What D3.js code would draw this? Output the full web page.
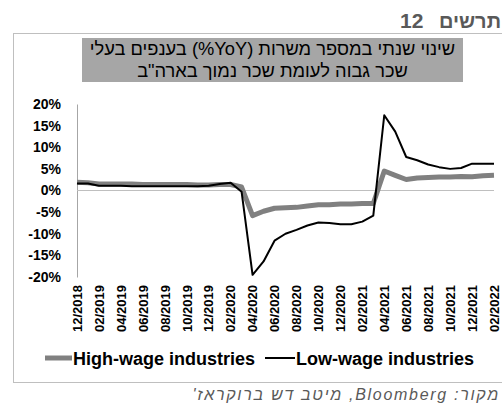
<!DOCTYPE html>
<html><head><meta charset="utf-8">
<script src="https://cdn.jsdelivr.net/npm/d3@7"></script>
<style>
html,body{margin:0;padding:0;background:#fff;}
svg{display:block;font-family:"Liberation Sans",Arial,sans-serif;}
</style></head>
<body><svg id="c" width="502" height="405"></svg>
<script>
const months = ["12/2018","01/2019","02/2019","03/2019","04/2019","05/2019","06/2019","07/2019","08/2019","09/2019","10/2019","11/2019","12/2019",
"01/2020","02/2020","03/2020","04/2020","05/2020","06/2020","07/2020","08/2020","09/2020","10/2020","11/2020","12/2020",
"01/2021","02/2021","03/2021","04/2021","05/2021","06/2021","07/2021","08/2021","09/2021","10/2021","11/2021","12/2021",
"01/2022","02/2022"];
const highWage = [1.9,1.8,1.5,1.5,1.5,1.5,1.4,1.4,1.4,1.4,1.4,1.3,1.3,1.4,1.4,0.8,-5.8,-4.8,-4.1,-4.0,-3.9,-3.6,-3.3,-3.3,-3.1,-3.1,-3.0,-3.0,4.5,3.5,2.55,2.9,3.0,3.1,3.1,3.25,3.2,3.4,3.5];
const lowWage = [1.6,1.6,1.1,1.1,1.1,1.0,1.0,1.0,1.0,1.0,1.0,1.0,1.1,1.5,1.8,-0.3,-19.5,-16.4,-11.6,-10.0,-9.1,-8.1,-7.4,-7.5,-7.8,-7.8,-7.2,-5.8,17.4,13.6,7.75,7.0,6.0,5.4,5.0,5.2,6.2,6.2,6.2];
const yTicks = [-20,-15,-10,-5,0,5,10,15,20];
const seriesNames = ["High-wage industries","Low-wage industries"];
const chartWord = "תרשים";
const chartNum = "12";
const titleLines = ["שינוי שנתי במספר משרות (YoY%) בענפים בעלי","שכר גבוה לעומת שכר נמוך בארה\"ב"];
const sourceText = "מקור: Bloomberg, מיטב דש ברוקראז'";

const svg = d3.select("#c");
const x = d3.scalePoint().domain(months).range([77, 494]);
const y = d3.scaleLinear().domain([-20, 20]).range([277, 104]);

// chart number
svg.append("text").attr("x", 400).attr("y", 28)
  .attr("font-size", 21).attr("font-weight","bold").attr("fill","#595959")
  .text(chartNum);
svg.append("text").attr("x", 501).attr("y", 28).attr("text-anchor","end")
  .attr("font-size", 20).attr("font-weight","bold").attr("fill","#595959")
  .text(chartWord);

// frame
svg.append("rect").attr("x",13.5).attr("y",33.5).attr("width",520).attr("height",349)
  .attr("fill","none").attr("stroke","#bfbfbf").attr("stroke-width",1);

// title box
svg.append("rect").attr("x",82).attr("y",38).attr("width",381).attr("height",44).attr("fill","#a6a6a6");
titleLines.forEach((t,i)=>{
  svg.append("text").attr("x",272.5).attr("y",55+i*22)
    .attr("text-anchor","middle").style("direction","rtl")
    .attr("font-size",18.3).attr("fill","#000").text(t);
});

// y axis
const yAxis = svg.append("g").attr("transform","translate(77,0)")
  .call(d3.axisLeft(y).tickValues(yTicks).tickSize(0).tickPadding(16).tickFormat(d=>d+"%"));
yAxis.select(".domain").attr("stroke","#a6a6a6");
yAxis.selectAll("text").attr("font-size",14).attr("font-weight","bold").attr("fill","#000")
  .attr("font-family","Liberation Sans, Arial, sans-serif");

// zero line
svg.append("line").attr("x1",77).attr("x2",494).attr("y1",y(0)).attr("y2",y(0))
  .attr("stroke","#bfbfbf").attr("stroke-width",1);

// x axis labels
const xAxis = svg.append("g").attr("transform","translate(0,285)")
  .call(d3.axisBottom(x).tickValues(months.filter((m,i)=>i%2===0)).tickSize(0));
xAxis.select(".domain").remove();
xAxis.selectAll("text").attr("transform","rotate(-90)").attr("x",0).attr("y",0)
  .attr("dy","0.33em").attr("text-anchor","end")
  .attr("font-size",13).attr("font-weight","bold").attr("fill","#000")
  .attr("font-family","Liberation Sans, Arial, sans-serif");

// lines
const line = d3.line().x((d,i)=>x(months[i])).y(d=>y(d));
svg.append("path").datum(highWage).attr("d",line).attr("fill","none")
  .attr("stroke","#808080").attr("stroke-width",5).attr("stroke-linejoin","round");
svg.append("path").datum(lowWage).attr("d",line).attr("fill","none")
  .attr("stroke","#000").attr("stroke-width",2).attr("stroke-linejoin","round");

// legend
const leg = [{x1:45,x2:72,c:"#808080",w:5,tx:73},{x1:265,x2:295,c:"#000",w:2,tx:296}];
leg.forEach((l,i)=>{
  svg.append("line").attr("x1",l.x1).attr("x2",l.x2).attr("y1",358).attr("y2",358)
    .attr("stroke",l.c).attr("stroke-width",l.w);
  svg.append("text").attr("x",l.tx).attr("y",365).attr("font-size",18).attr("font-weight","bold")
    .attr("fill","#000").text(seriesNames[i]);
});

// source
svg.append("text").attr("x",500).attr("y",400)
  .style("direction","rtl").attr("text-anchor","start")
  .attr("font-size",16).attr("letter-spacing",1.7).attr("font-style","italic").attr("fill","#595959")
  .text(sourceText);
</script></body></html>
